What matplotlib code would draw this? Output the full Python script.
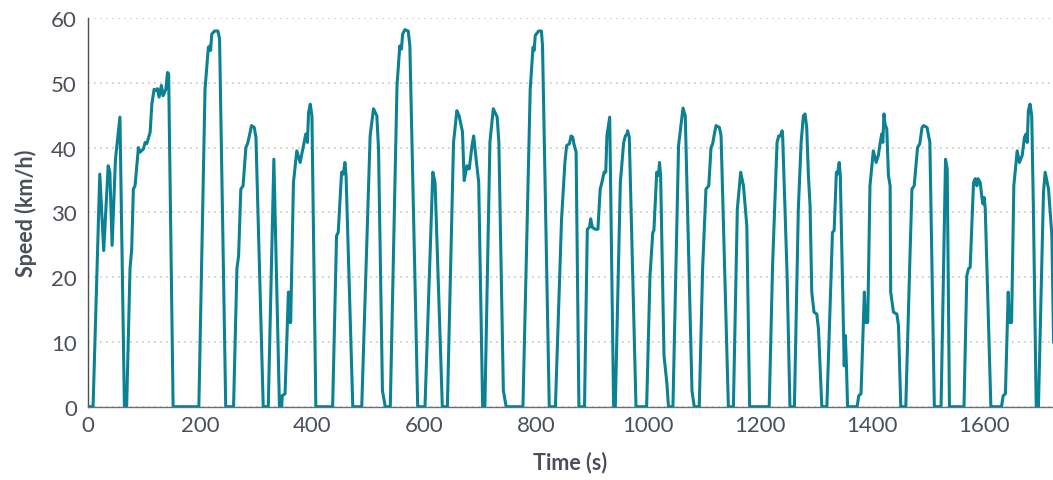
import matplotlib
matplotlib.use('Agg')
import matplotlib.pyplot as plt

# Drive cycle trace (time in s, speed in km/h)
time_s = [0, 9, 21, 28, 36, 39, 43, 49, 57, 65, 69, 75, 78, 81, 84, 90, 93, 99, 102, 105,
          109, 111, 114, 118, 121, 124, 127, 131, 134, 139, 142, 144, 152,
          198, 209, 215, 218, 219, 221, 226, 232, 235, 246,
          260, 266, 269, 273, 277, 282, 285, 289, 292, 297, 300, 313,
          322, 332, 342, 346, 347, 352, 358, 360, 362, 367, 373, 379, 385, 389, 392, 394, 397, 400, 407,
          437, 444, 447, 453, 456, 459, 461, 473,
          489, 504, 510, 516, 519, 526, 531,
          540, 552, 557, 560, 562, 566, 572, 575, 589,
          602, 616, 620, 633,
          642, 653, 659, 663, 669, 672, 677, 681, 686, 689, 692, 698, 705,
          709, 718, 724, 731, 734, 742, 747,
          777, 790, 795, 797, 799, 805, 810, 812, 824,
          835, 846, 852, 855, 860, 863, 866, 868, 872, 877,
          887, 892, 896, 898, 901, 906, 911, 915, 918, 922, 925, 927, 932, 939,
          942, 951, 957, 960, 963, 964, 967, 979,
          998, 1004, 1009, 1011, 1016, 1019, 1021, 1023, 1029, 1034, 1037,
          1045, 1055, 1063, 1067, 1079, 1083,
          1092, 1098, 1104, 1109, 1113, 1116, 1119, 1122, 1128, 1131, 1144,
          1153, 1160, 1166, 1171, 1177, 1182,
          1217, 1223, 1231, 1234, 1237, 1240, 1241, 1249, 1254,
          1262, 1269, 1274, 1278, 1281, 1284, 1287, 1290, 1293, 1297, 1302, 1305, 1311,
          1320, 1330, 1333, 1337, 1339, 1342, 1344, 1351, 1353, 1355, 1357,
          1374, 1377, 1381, 1387, 1389, 1393, 1397, 1403, 1408, 1412, 1415, 1418, 1420, 1422, 1424,
          1427, 1430, 1433, 1434, 1439, 1445, 1448, 1452,
          1461, 1468, 1472, 1476, 1482, 1486, 1490, 1493, 1499, 1504, 1512,
          1524, 1532, 1535, 1539,
          1565, 1570, 1573, 1576, 1582, 1585, 1588, 1590, 1594, 1597, 1599, 1601, 1603, 1613,
          1632, 1635, 1639, 1644, 1646, 1650, 1654, 1660, 1664, 1669, 1673, 1676, 1678, 1680, 1683,
          1686, 1689, 1694, 1698, 1707, 1710, 1716, 1722, 1725]
speed_kmh = [0, 0, 35.9, 24.1, 37.2, 36.2, 24.9, 38.2, 44.7, 0, 0, 21.3, 24.3, 33.6, 34.1, 40, 39.3, 39.8, 40.8, 40.6,
             41.8, 42.4, 46.7, 49, 48.8, 49.1, 47.8, 49.6, 48, 49, 51.6, 51.4, 0,
             0, 49, 55.5, 55.7, 55, 57.5, 58, 58, 56.8, 0,
             0, 21.3, 23.3, 33.6, 34.1, 40, 40.6, 42.1, 43.4, 43.1, 41.6, 0,
             0, 38.2, 0, 0, 1.7, 2, 17.7, 13, 13, 34.6, 39.5, 37.7, 40.3, 42.1, 40.8, 45.4, 46.7, 44.9, 0,
             0, 26.4, 26.9, 36.2, 35.9, 37.7, 35.7, 0,
             0, 41.8, 46, 44.9, 39.8, 2.5, 0,
             0, 49.6, 55.7, 55.2, 57.5, 58.2, 58, 55.7, 0,
             0, 36.2, 34.6, 0,
             0, 40.8, 45.7, 44.9, 42.4, 34.9, 37.2, 36.7, 40.3, 41.8, 39.3, 34.6, 0,
             0, 40.8, 46, 44.7, 40.8, 2.5, 0,
             0, 49, 55.5, 55, 57.3, 58, 58, 55.7, 0,
             0, 29, 37.7, 40.3, 40.6, 41.8, 41.6, 40.6, 39.3, 0,
             0, 27.4, 27.7, 29, 27.7, 27.4, 27.4, 33.6, 34.6, 36.2, 36.2, 41.8, 44.7, 0,
             0, 34.6, 40.8, 41.8, 42.1, 42.6, 41.6, 0,
             0, 20.2, 26.9, 27.2, 36.2, 35.7, 37.7, 35.7, 7.9, 3.8, 0,
             0, 40.3, 46.1, 44.9, 2.5, 0,
             0, 21.3, 33.6, 34.1, 40, 40.6, 42.1, 43.4, 43.1, 41.8, 0,
             0, 30.5, 36.2, 34.1, 27.9, 0,
             0, 21.8, 40.8, 41.8, 41.8, 42.6, 41.8, 20.2, 0,
             0, 30.5, 40.8, 44.9, 45.2, 43.1, 35.7, 31, 17.7, 14.6, 14.3, 12, 0,
             0, 26.9, 27.2, 36.2, 35.9, 37.7, 35.7, 6.3, 11, 6.3, 0,
             0, 1.7, 2, 17.7, 13, 13, 34.1, 39.5, 37.7, 38.8, 40.6, 42.1, 40.8, 45.2, 43.6,
             42.9, 35.7, 34.1, 17.7, 14.6, 14.3, 12.5, 0,
             0, 21.8, 33.6, 34.1, 40, 40.6, 43.1, 43.4, 43.1, 40.8, 0,
             0, 38.2, 36.7, 0,
             0, 20.2, 21.3, 21.5, 34.6, 35.2, 34.1, 35.2, 34.6, 32.3, 31.3, 32.3, 30.5, 0,
             0, 1.7, 2, 17.7, 13, 13, 34.1, 39.5, 37.7, 38.8, 41.6, 42.1, 40.8, 45.7, 46.7,
             44.9, 30.5, 0, 0, 33.1, 36.2, 33.6, 26.4, 10]

x_ticks = [0, 200, 400, 600, 800, 1000, 1200, 1400, 1600]
y_ticks = [0, 10, 20, 30, 40, 50, 60]

line_color = '#0a8293'
text_color = '#4b5058'

plt.rcParams['font.family'] = ['Lato', 'DejaVu Sans']

fig = plt.figure(figsize=(10.53, 4.81), dpi=100)
ax = fig.add_axes([0.0836, 0.1524, 0.9164, 0.808])

ax.plot(time_s, speed_kmh, color=line_color, linewidth=2.2, solid_joinstyle='round', zorder=3)

ax.set_xlim(0, 1724)
ax.set_ylim(0, 60)
ax.set_xticks(x_ticks)
ax.set_yticks(y_ticks)

ax.grid(axis='y', color='#c8c8c8', linestyle=(0, (1, 2.6)), linewidth=1.2)
ax.set_axisbelow(True)

for s in ['top', 'right']:
    ax.spines[s].set_visible(False)
ax.spines['left'].set_color('#4b5058')
ax.spines['bottom'].set_color('#6b6f75')
ax.spines['left'].set_linewidth(1.0)
ax.spines['bottom'].set_linewidth(1.0)

ax.tick_params(length=0, labelsize=16, labelcolor=text_color)
ax.tick_params(axis='y', pad=8)
ax.tick_params(axis='x', pad=6)

ax.set_xlabel('Time (s)', fontsize=15.5, fontweight='bold', color=text_color, labelpad=11)
ax.set_ylabel('Speed (km/h)', fontsize=15.5, fontweight='bold', color=text_color, labelpad=10)

fig.savefig('out.png', dpi=100)
